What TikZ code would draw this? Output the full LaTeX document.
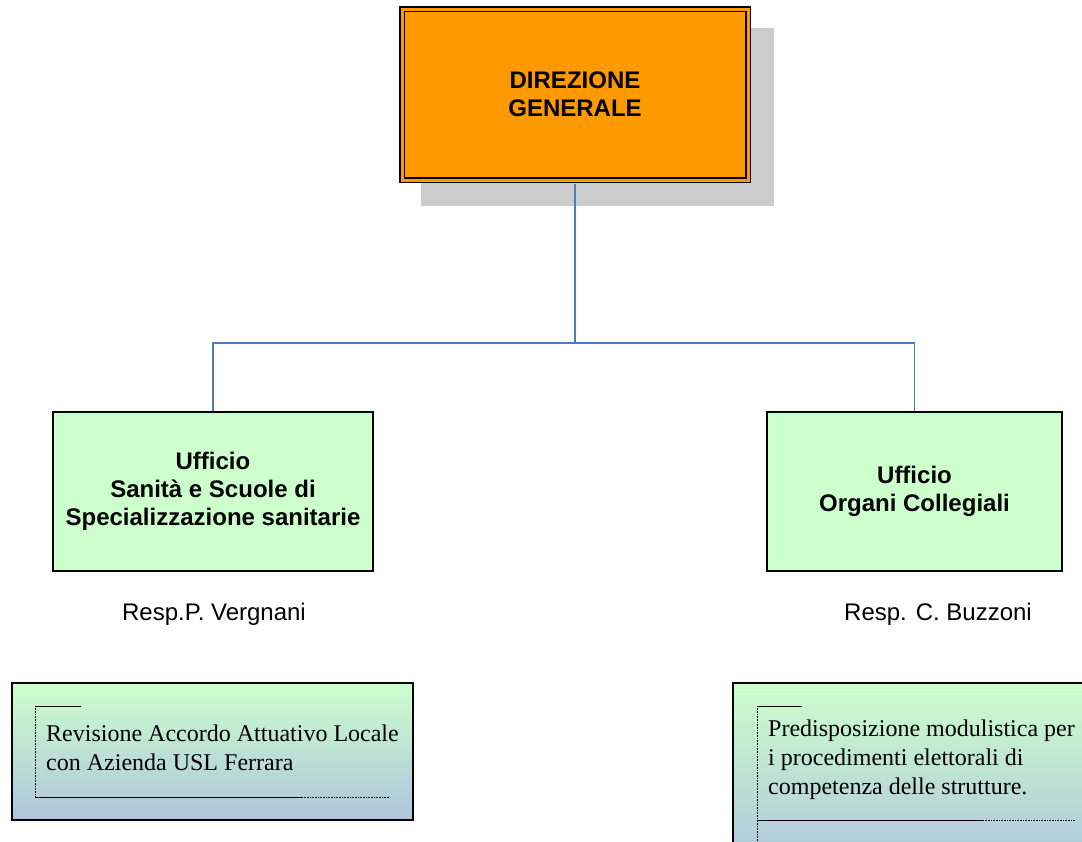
\documentclass[tikz,border=0pt]{standalone}
\usepackage{fontspec}
\setmainfont{Liberation Serif}
\setsansfont{Liberation Sans}
\usepackage{tikz}
\usetikzlibrary{positioning,calc}

\definecolor{dirorange}{RGB}{255,153,0}
\definecolor{uffgreen}{RGB}{204,255,204}
\definecolor{linkblue}{RGB}{74,126,187}
\definecolor{shadowgray}{RGB}{204,204,204}
\definecolor{noteblue}{RGB}{176,196,222}

\begin{document}
\begin{tikzpicture}[x=1pt, y=-1pt,
    dirbox/.style={draw=black, fill=dirorange, double=dirorange, double distance=3pt, line width=1.5pt,
        minimum width=346pt, minimum height=171pt, inner sep=0pt, align=center,
        font=\sffamily\bfseries\fontsize{24}{28}\selectfont},
    uffbox/.style={draw=black, fill=uffgreen, line width=1.3pt, minimum width=320pt, minimum height=159pt,
        inner sep=0pt, align=center, font=\sffamily\bfseries\fontsize{24}{28}\selectfont},
    resp/.style={font=\sffamily\fontsize{24}{28}\selectfont},
    notebox/.style={draw=black, line width=1.5pt, top color=uffgreen, bottom color=noteblue},
    notetext/.style={anchor=north west, inner sep=0pt, align=left, font=\rmfamily\fontsize{24}{29}\selectfont},
    frame/.style={line width=0.6pt},
    conn/.style={draw=linkblue, line width=1.5pt}]
    \useasboundingbox (0,0) rectangle (1082,841);
    \clip (0,0) rectangle (1082,841);

    % Direzione with shadow
    \fill [shadowgray] (421,28) rectangle (774,206);
    \node [dirbox] (dg) at (575,94.5) {DIREZIONE\\GENERALE};

    % Uffici
    \node [uffbox] (uss) at (213,491.5) {Ufficio\\Sanità e Scuole di\\Specializzazione sanitarie};
    \node [uffbox, minimum width=295pt] (uoc) at (914.5,491.5) {Ufficio\\Organi Collegiali};
    \node [resp] (respss) at (214,614) {Resp.P. Vergnani};
    \node [resp] (respoc) at (938,614) {Resp. C. Buzzoni};

    % Connectors
    \coordinate (bar) at (575,343);
    \draw [conn, shorten <=3pt] (dg.south) -- (bar) -| (uss.north);
    \draw [conn] (bar) -| (uoc.north);

    % Notes left
    \draw [notebox] (12,683) rectangle (413,820);
    \draw [frame] (81,706) -- (35,706);
    \draw [frame, densely dotted] (35,706) -- (35,797);
    \draw [frame] (35,797) -- (302,797);
    \draw [frame, densely dotted] (302,797) -- (390,797);
    \node [notetext] (notess) at (46,724.5) {Revisione Accordo Attuativo Locale\\con Azienda USL Ferrara};

    % Notes right (cut at the page edge)
    \draw [notebox] (733,683) rectangle (1110,870);
    \draw [frame] (802,706) -- (757,706);
    \draw [frame, densely dotted] (757,706) -- (757,850);
    \draw [frame] (757,820) -- (983,820);
    \draw [frame, densely dotted] (983,820) -- (1075,820);
    \node [notetext] (noteoc) at (768,719.5) {Predisposizione modulistica per\\i procedimenti elettorali di\\competenza delle strutture.};
\end{tikzpicture}
\end{document}
